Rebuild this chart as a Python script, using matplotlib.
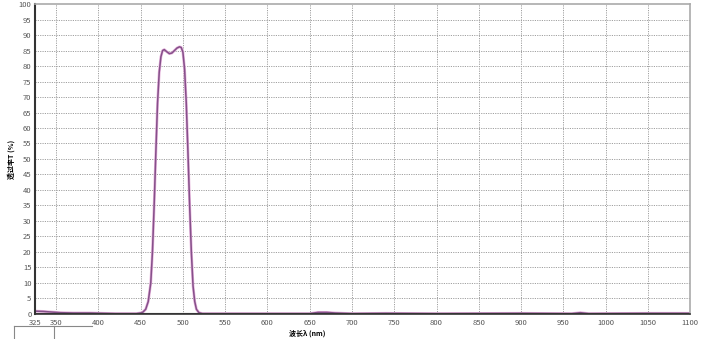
import matplotlib.pyplot as plt
from matplotlib.lines import Line2D

plt.rcParams['font.family'] = ['Noto Sans CJK SC', 'DejaVu Sans']

# transmission curve
wavelength = [325, 335, 345, 355, 370, 390, 420, 445, 452, 456, 459, 462, 464,
              466, 468, 470, 472, 474, 476, 478, 481, 484, 487, 490, 493, 496,
              498, 500, 502, 504, 506, 508, 510, 512, 514, 516, 519, 523, 540,
              600, 650, 660, 670, 680, 700, 740, 800, 900, 960, 970, 980, 1050, 1100]
transmission = [0.9, 0.8, 0.6, 0.4, 0.3, 0.3, 0.1, 0.1, 0.4, 1.5, 4, 10, 20,
                35, 52, 68, 78, 83, 85, 85.3, 84.6, 84, 84.2, 85, 85.8, 86.2,
                86, 84.5, 79, 68, 52, 35, 20, 9, 4, 1.5, 0.4, 0.1, 0.1,
                0.1, 0.1, 0.5, 0.5, 0.3, 0.1, 0.2, 0.1, 0.2, 0.1, 0.4, 0.1, 0.2, 0.2]

xticks = [325, 350, 400, 450, 500, 550, 600, 650, 700, 750, 800, 850,
          900, 950, 1000, 1050, 1100]
yticks = list(range(0, 101, 5))

fig = plt.figure(figsize=(7.13, 3.39), dpi=100)
ax = fig.add_axes([0.049, 0.074, 0.919, 0.914])

ax.plot(wavelength, transmission, color='#e6b3dc', lw=2.0)
ax.plot(wavelength, transmission, color='#85508a', lw=1.1)
ax.axhline(0.15, color='#444444', lw=0.8)

ax.set_xlim(325, 1100)
ax.set_ylim(0, 100)
ax.set_xticks(xticks)
ax.set_yticks(yticks)
ax.tick_params(labelsize=5.5, colors='#555555', length=0)
ax.tick_params(axis='x', pad=4)
ax.tick_params(axis='y', pad=2.5)

for x in xticks[1:-1]:
    ax.axvline(x, color='#a0a0a0', lw=0.7, ls=(0, (1.2, 1.2)), zorder=0)
for y in yticks[1:-1]:
    ax.axhline(y, color='#a0a0a0', lw=0.7, ls=(0, (1.2, 1.2)), zorder=0)

ax.spines['left'].set_color('#333333')
ax.spines['left'].set_linewidth(1.5)
ax.spines['bottom'].set_color('#333333')
ax.spines['bottom'].set_linewidth(1.2)
ax.spines['top'].set_color('#aaaaaa')
ax.spines['top'].set_linewidth(1.2)
ax.spines['right'].set_color('#aaaaaa')
ax.spines['right'].set_linewidth(1.2)

ax.set_xlabel('波长λ (nm)', fontsize=5, fontweight='bold', labelpad=0)
ax.xaxis.set_label_coords(0.415, -0.05)
ax.set_ylabel('透过率T (%)', fontsize=5, fontweight='bold', labelpad=1)
ax.yaxis.set_label_coords(-0.03, 0.5)

# leftover box outline below the plot
box = '#888888'
fig.add_artist(Line2D([14 / 713, 92 / 713], [13 / 339, 13 / 339], color=box, lw=0.8))
fig.add_artist(Line2D([14 / 713, 14 / 713], [0, 13 / 339], color=box, lw=0.8))
fig.add_artist(Line2D([54 / 713, 54 / 713], [0, 13 / 339], color=box, lw=0.8))

fig.savefig('out.png', dpi=100)
